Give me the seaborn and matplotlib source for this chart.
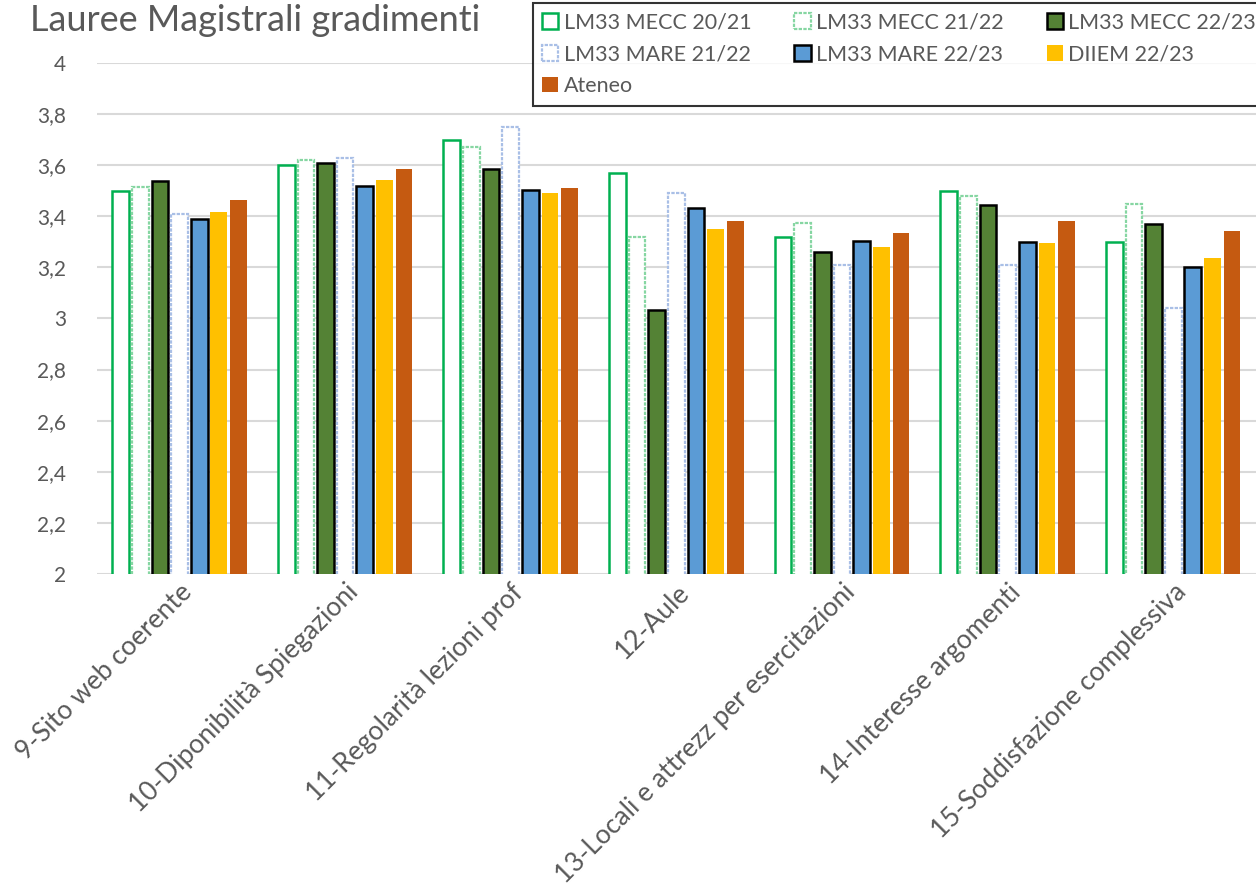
import matplotlib
matplotlib.use('Agg')
import matplotlib.pyplot as plt
import seaborn as sns
import pandas as pd
from matplotlib.ticker import FuncFormatter, MultipleLocator

domande = ['9-Sito web coerente', '10-Diponibilità Spiegazioni', '11-Regolarità lezioni prof',
           '12-Aule', '13-Locali e attrezz per esercitazioni', '14-Interesse argomenti',
           '15-Soddisfazione complessiva']

serie = ['LM33 MECC 20/21', 'LM33 MECC 21/22', 'LM33 MECC 22/23', 'LM33 MARE 21/22',
         'LM33 MARE 22/23', 'DIIEM 22/23', 'Ateneo']

mecc_2021 = [3.50, 3.60, 3.70, 3.57, 3.32, 3.50, 3.30]
mecc_2122 = [3.515, 3.62, 3.67, 3.32, 3.375, 3.48, 3.45]
mecc_2223 = [3.537, 3.607, 3.585, 3.033, 3.26, 3.445, 3.37]
mare_2122 = [3.41, 3.63, 3.75, 3.49, 3.21, 3.21, 3.04]
mare_2223 = [3.39, 3.517, 3.503, 3.433, 3.305, 3.30, 3.203]
diiem_2223 = [3.416, 3.542, 3.49, 3.349, 3.278, 3.295, 3.236]
ateneo = [3.464, 3.585, 3.51, 3.382, 3.335, 3.383, 3.344]

valori = [mecc_2021, mecc_2122, mecc_2223, mare_2122, mare_2223, diiem_2223, ateneo]

righe = []
for s, vals in zip(serie, valori):
    for d, v in zip(domande, vals):
        righe.append({'domanda': d, 'serie': s, 'valore': v})
df = pd.DataFrame(righe)

# stile di ogni serie: riempimento, bordo, tratteggio
stili = {
    'LM33 MECC 20/21': ('white', '#00B050', '-', 1.8),
    'LM33 MECC 21/22': ('white', '#86D6A2', (0, (1.5, 0.6)), 1.6),
    'LM33 MECC 22/23': ('#548235', 'black', '-', 1.8),
    'LM33 MARE 21/22': ('white', '#A9BFE6', (0, (1.5, 0.6)), 1.6),
    'LM33 MARE 22/23': ('#5B9BD5', 'black', '-', 1.8),
    'DIIEM 22/23': ('#FFC000', 'none', '-', 0),
    'Ateneo': ('#C55A11', 'none', '-', 0),
}

sns.set_style('white')
plt.rcParams['font.family'] = ['Lato', 'DejaVu Sans']
grigio = '#595959'

fig = plt.figure(figsize=(12.56, 8.94), dpi=100)
ax = fig.add_axes([0.077, 0.358, 0.923, 0.5715])

sns.barplot(data=df, x='domanda', y='valore', hue='serie', hue_order=serie,
            palette=[stili[s][0] for s in serie], width=0.83, gap=0.15,
            legend=False, ax=ax, zorder=3)

for s, cont in zip(serie, ax.containers):
    fc, ec, ls, lw = stili[s]
    for p in cont.patches:
        p.set_facecolor(fc)
        p.set_edgecolor(ec)
        p.set_linestyle(ls)
        p.set_linewidth(lw)

ax.set_ylim(2, 4)
ax.yaxis.set_major_locator(MultipleLocator(0.2))
ax.yaxis.set_major_formatter(FuncFormatter(lambda v, _: f'{v:.1f}'.rstrip('0').rstrip('.').replace('.', ',')))
ax.grid(axis='y', color='#D9D9D9', linewidth=1.5, zorder=0)
ax.set_axisbelow(True)
for sp in ax.spines.values():
    sp.set_visible(False)
ax.set_xlabel('')
ax.set_ylabel('')
ax.tick_params(axis='both', length=0, labelsize=15, labelcolor=grigio)
ax.tick_params(axis='y', pad=22)
ax.tick_params(axis='x', pad=4)
plt.setp(ax.get_xticklabels(), rotation=45, ha='right', rotation_mode='anchor', fontsize=19)
ax.set_xlim(-0.5, len(domande) - 0.5)

fig.text(0.024, 0.996, 'Lauree Magistrali gradimenti', fontsize=26, color=grigio, va='top')

# legenda riempita per righe come nell'originale
handles = list(ax.containers)
ordine = [0, 3, 6, 1, 4, 2, 5]
leg = fig.legend([handles[i] for i in ordine], [serie[i] for i in ordine],
                 loc='upper left', bbox_to_anchor=(0.424, 0.997), borderaxespad=0, ncol=3,
                 fontsize=15.5, frameon=True, fancybox=False, edgecolor='black',
                 handlelength=0.75, handleheight=0.75, handletextpad=0.25,
                 columnspacing=2.0, labelspacing=0.55, borderpad=0.45)
leg.get_frame().set_linewidth(1.5)
for t in leg.get_texts():
    t.set_color(grigio)

fig.savefig('out.png', dpi=100)
